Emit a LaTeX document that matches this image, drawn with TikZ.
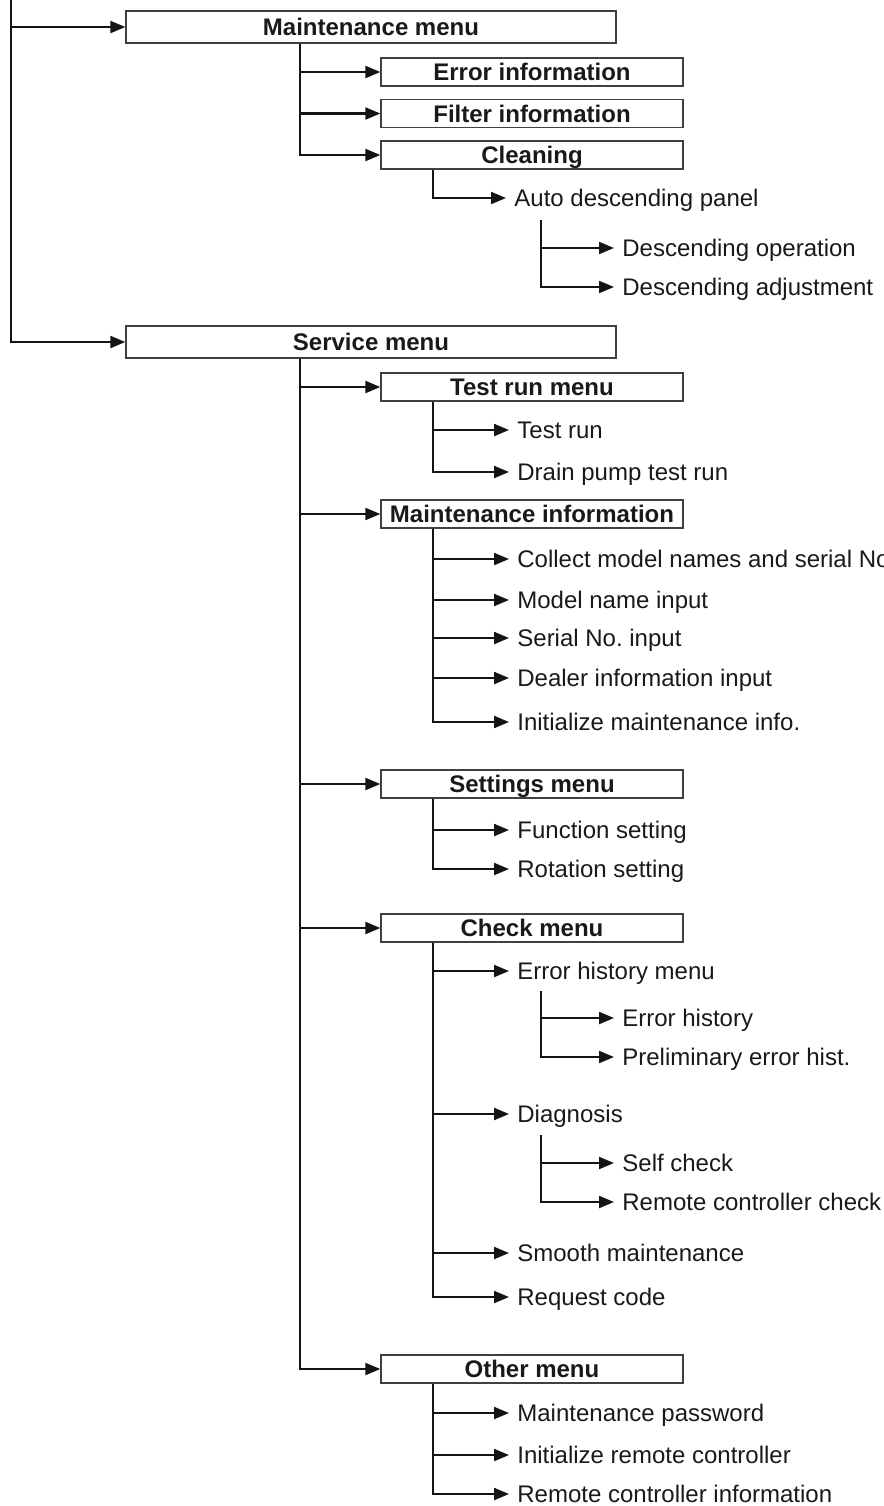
\documentclass[tikz,border=0pt]{standalone}
\usepackage{fontspec}
\setmainfont{Liberation Sans}
\usetikzlibrary{arrows.meta,calc}
\frenchspacing
\begin{document}
\begin{tikzpicture}[x=0.5pt,y=-0.5pt,
  ink/.style={line width=1.05pt, draw=black!92},
  conn/.style={ink, -{Triangle[length=7.5pt,width=6pt]}},
  txt/.style={font=\fontsize{12pt}{14pt}\selectfont, text=black!90, text height=8.6pt, text depth=0pt},
  bigbox/.style={txt, draw=black!75, line width=0.65pt, minimum width=245pt, minimum height=16pt, inner sep=0pt, font=\fontsize{12pt}{14pt}\selectfont\bfseries},
  subbox/.style={bigbox, minimum width=151pt, minimum height=14pt},
  leaf/.style={txt, anchor=west, inner ysep=0pt, inner xsep=4pt},
]
\useasboundingbox (0,0) rectangle (884,1506);

\coordinate (L) at (11,0);
\coordinate (T1) at (300,0);
\coordinate (T2) at (433,0);
\coordinate (T3) at (541,0);

% main boxes
\node[bigbox] (mm) at (371,27) {Maintenance menu};
\node[bigbox] (sm) at (371,342) {Service menu};
\draw[conn] (L) |- (sm.west);
\draw[conn] (L |- mm.west) -- (mm.west);

% maintenance menu children
\node[subbox] (err) at (532,72) {Error information};
\node[subbox] (fil) at (532,113.5) {Filter information};
\node[subbox] (cln) at (532,155) {Cleaning};
\foreach \c in {err,fil,cln} \draw[conn] (T1 |- mm.south) |- (\c.west);

\node[leaf] (auto) at (506,198) {Auto descending panel};
\draw[conn] (T2 |- cln.south) |- (auto.west);
\node[leaf] (dop) at (614,248) {Descending operation};
\node[leaf] (dad) at (614,287) {Descending adjustment};
\coordinate (autob) at ($(auto.west -| T3)+(0,22)$);
\foreach \c in {dop,dad} \draw[conn] (autob) |- (\c.west);

% service menu children
\node[subbox] (trm) at (532,387) {Test run menu};
\node[subbox] (mi) at (532,514) {Maintenance information};
\node[subbox] (stm) at (532,784) {Settings menu};
\node[subbox] (chk) at (532,928) {Check menu};
\node[subbox] (oth) at (532,1369) {Other menu};
\foreach \c in {trm,mi,stm,chk,oth} \draw[conn] (T1 |- sm.south) |- (\c.west);

% test run menu
\node[leaf] (tr) at (509,430) {Test run};
\node[leaf] (dp) at (509,472) {Drain pump test run};
\foreach \c in {tr,dp} \draw[conn] (T2 |- trm.south) |- (\c.west);

% maintenance information
\node[leaf] (col) at (509,559) {Collect model names and serial No.};
\node[leaf] (mod) at (509,600) {Model name input};
\node[leaf] (ser) at (509,638) {Serial No. input};
\node[leaf] (dea) at (509,678) {Dealer information input};
\node[leaf] (ini) at (509,722) {Initialize maintenance info.};
\foreach \c in {col,mod,ser,dea,ini} \draw[conn] (T2 |- mi.south) |- (\c.west);

% settings menu
\node[leaf] (fun) at (509,830) {Function setting};
\node[leaf] (rot) at (509,869) {Rotation setting};
\foreach \c in {fun,rot} \draw[conn] (T2 |- stm.south) |- (\c.west);

% check menu
\node[leaf] (ehm) at (509,971) {Error history menu};
\node[leaf] (dia) at (509,1114) {Diagnosis};
\node[leaf] (smo) at (509,1253) {Smooth maintenance};
\node[leaf] (req) at (509,1297) {Request code};
\foreach \c in {ehm,dia,smo,req} \draw[conn] (T2 |- chk.south) |- (\c.west);

\node[leaf] (eh) at (614,1018) {Error history};
\node[leaf] (peh) at (614,1057) {Preliminary error hist.};
\coordinate (ehmb) at ($(ehm.west -| T3)+(0,20)$);
\foreach \c in {eh,peh} \draw[conn] (ehmb) |- (\c.west);

\node[leaf] (sc) at (614,1163) {Self check};
\node[leaf] (rcc) at (614,1202) {Remote controller check};
\coordinate (diab) at ($(dia.west -| T3)+(0,21)$);
\foreach \c in {sc,rcc} \draw[conn] (diab) |- (\c.west);

% other menu
\node[leaf] (mp) at (509,1413) {Maintenance password};
\node[leaf] (irc) at (509,1455) {Initialize remote controller};
\node[leaf] (rci) at (509,1494) {Remote controller information};
\foreach \c in {mp,irc,rci} \draw[conn] (T2 |- oth.south) |- (\c.west);
\end{tikzpicture}
\end{document}
